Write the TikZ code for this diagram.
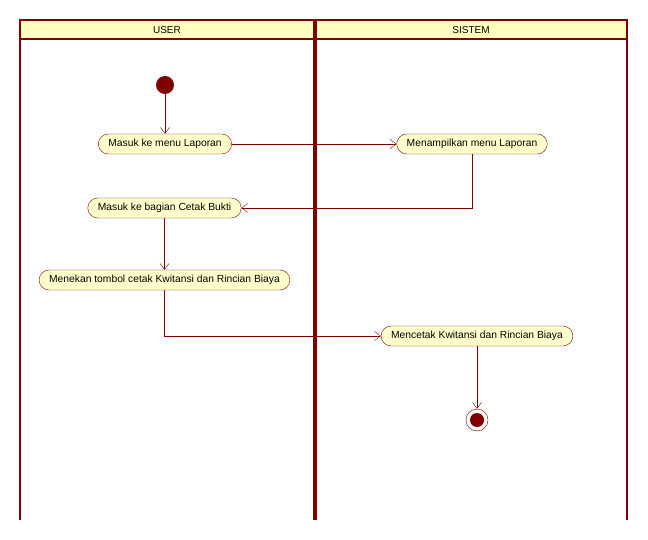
\documentclass[tikz,border=0pt]{standalone}
\usepackage{fontspec}
\setmainfont{Liberation Sans}
\usepackage{pgf,tikz}
\usetikzlibrary{arrows,arrows.meta}
\usetikzlibrary{positioning}

\definecolor{lanered}{RGB}{128,0,0}
\definecolor{headyellow}{RGB}{255,255,192}
\definecolor{actyellow}{RGB}{255,255,204}

\tikzset{
	action/.style={draw=lanered, fill=actyellow, rounded corners=10pt, minimum height=20pt, inner xsep=10pt, inner ysep=0pt, font=\fontsize{10.3}{11}\selectfont},
	flow/.style={draw=lanered, -{Straight Barb[length=6pt, width=9pt]}},
	lanetitle/.style={font=\fontsize{10}{11}\selectfont}
}

\begin{document}
\begin{tikzpicture}[x=1pt, y=-1pt]
		\useasboundingbox (0,0) rectangle (648,540);
		% swimlanes
		\fill[headyellow] (20,20) rectangle (627,39);
		\draw[lanered, line width=2pt] (20,520) -- (20,20) -- (627,20) -- (627,520);
		\draw[lanered, line width=2pt] (20,39) -- (627,39);
		\draw[lanered, line width=4pt] (315,20) -- (315,520);
		\node[lanetitle] (user) at (167,30) {USER};
		\node[lanetitle] (sistem) at (471,30) {SISTEM};
		% nodes
		\node[circle, fill=lanered, minimum size=18pt, inner sep=0pt] (start) at (165,85) {};
		\node[action] (menu) at (165,144) {Masuk ke menu Laporan};
		\node[action] (tampil) at (472,144) {Menampilkan menu Laporan};
		\node[action] (bukti) at (164.5,208) {Masuk ke bagian Cetak Bukti};
		\node[action] (tekan) at (164.5,280) {Menekan tombol cetak Kwitansi dan Rincian Biaya};
		\node[action] (cetak) at (477,336) {Mencetak Kwitansi dan Rincian Biaya};
		\node[circle, draw=lanered, fill=white, minimum size=22pt, inner sep=0pt] (end) at (477,420) {};
		\fill[lanered] (end.center) circle [radius=7pt];
		% flows
		\draw[flow] (start) -- (menu);
		\draw[flow] (menu) -- (tampil);
		\draw[flow] (tampil.south) |- (bukti.east);
		\draw[flow] (bukti) -- (tekan);
		\draw[flow] (tekan.south) |- (cetak.west);
		\draw[flow] (cetak) -- (end);
	\end{tikzpicture}
\end{document}
